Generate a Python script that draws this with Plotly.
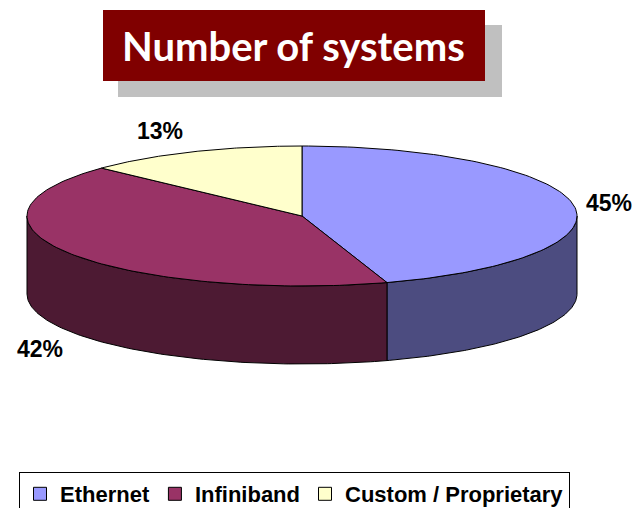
import numpy as np
import plotly.graph_objects as go

# Share of systems by interconnect family (percent)
categories = ["Ethernet", "Infiniband", "Custom / Proprietary"]
shares = [45, 42, 13]
top_colors = ["#9999FF", "#993366", "#FFFFCC"]
side_colors = ["#4C4C80", "#4D1A33", "#80806A"]

# Geometry of the tilted pie (pixel space of the canvas)
W, H = 635, 508
CX, CY = 302, 216      # centre of the top ellipse
RX, RY = 275, 70       # radii of the top ellipse
DEPTH = 78             # thickness of the disc
LABEL_POS = [(609, 203), (40, 349), (160, 131)]


def arc(a0, a1, n=120, dy=0.0):
    """Points on the ellipse for angles (deg, clockwise from 12 o'clock)."""
    t = np.radians(np.linspace(a0, a1, n))
    return CX + RX * np.sin(t), CY - RY * np.cos(t) + dy


fig = go.Figure()

# cumulative angular extents from the shares
total = float(sum(shares))
bounds = np.concatenate([[0.0], np.cumsum(shares) / total * 360.0])

# front rim: only the part of the disc facing the viewer (90..270 deg)
for i, name in enumerate(categories):
    s, e = max(bounds[i], 90.0), min(bounds[i + 1], 270.0)
    if s >= e:
        continue
    xt, yt = arc(s, e)
    xb, yb = arc(e, s, dy=DEPTH)
    fig.add_trace(go.Scatter(
        x=np.concatenate([xt, xb, xt[:1]]), y=np.concatenate([yt, yb, yt[:1]]),
        mode="lines", fill="toself", fillcolor=side_colors[i],
        line=dict(color="black", width=1), hoverinfo="skip", showlegend=False))

# top faces of the slices
for i, name in enumerate(categories):
    xa, ya = arc(bounds[i], bounds[i + 1])
    fig.add_trace(go.Scatter(
        x=np.concatenate([[CX], xa, [CX]]), y=np.concatenate([[CY], ya, [CY]]),
        mode="lines", fill="toself", fillcolor=top_colors[i],
        line=dict(color="black", width=1), hoverinfo="skip", showlegend=False))

# legend entries
for i, name in enumerate(categories):
    fig.add_trace(go.Scatter(
        x=[None], y=[None], mode="markers", name=name,
        marker=dict(symbol="square", size=13, color=top_colors[i],
                    line=dict(color="black", width=1))))

# percentage labels
for i, v in enumerate(shares):
    lx, ly = LABEL_POS[i]
    fig.add_annotation(x=lx, y=ly, text=f"{v}%", showarrow=False,
                       xref="x", yref="y", xanchor="center", yanchor="middle",
                       font=dict(family="Liberation Sans, Arial", size=23,
                                 color="black", weight="bold"))

# title banner with drop shadow
fig.add_shape(type="rect", xref="x", yref="y", x0=118, x1=502, y0=25, y1=97,
              fillcolor="#C0C0C0", line=dict(width=0), layer="above")
fig.add_shape(type="rect", xref="x", yref="y", x0=103, x1=485, y0=10, y1=81,
              fillcolor="#800000", line=dict(width=0), layer="above")
fig.add_annotation(x=293, y=46, xref="x", yref="y", text="Number of systems",
                   showarrow=False, xanchor="center", yanchor="middle",
                   font=dict(family="Lato, Open Sans, sans-serif", size=40,
                             color="white", weight="bold"))

fig.update_layout(
    width=W, height=H,
    margin=dict(l=0, r=0, t=0, b=0, autoexpand=False),
    paper_bgcolor="white", plot_bgcolor="white",
    xaxis=dict(range=[0, W], visible=False, fixedrange=True),
    yaxis=dict(range=[H, 0], visible=False, fixedrange=True),
    showlegend=True,
    legend=dict(orientation="h", x=19 / W, y=1 - 472 / H,
                xanchor="left", yanchor="top",
                bordercolor="black", borderwidth=1, bgcolor="white",
                itemclick=False, itemdoubleclick=False,
                font=dict(family="Liberation Sans, Arial", size=22,
                          color="black", weight="bold")),
)

fig.write_html("out.html")
